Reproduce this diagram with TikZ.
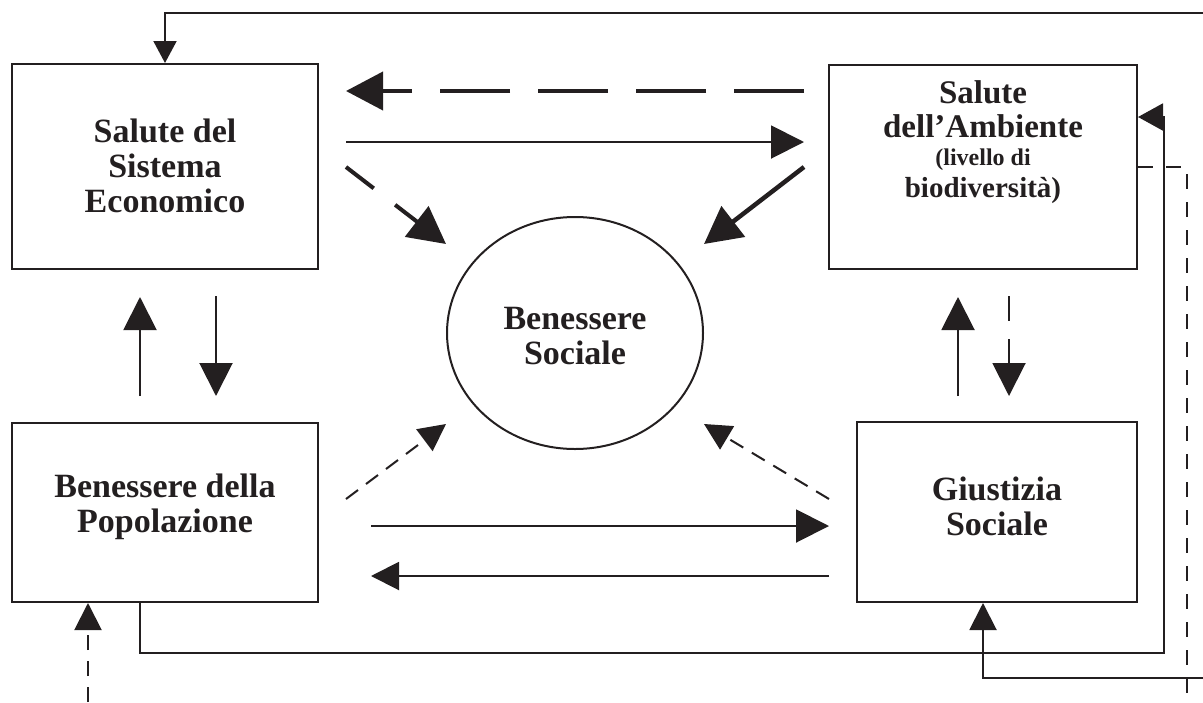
\documentclass[tikz,border=0pt]{standalone}
\usepackage{fontspec}
\setmainfont{Liberation Serif}
\usetikzlibrary{arrows.meta,calc,shapes.geometric}
\definecolor{ink}{RGB}{35,31,32}
\begin{document}
\begin{tikzpicture}[x=1pt,y=-1pt,
  box/.style={draw=ink,line width=2pt,rectangle,inner sep=0pt},
  lbl/.style={text=ink,font=\bfseries\fontsize{34}{35}\selectfont,align=center,inner sep=0pt},
  ln/.style={draw=ink,line width=2pt},
  tipM/.style={-{Triangle[length=33pt,width=33pt]}},
  tipS/.style={-{Triangle[length=27pt,width=27pt]}},
  tipB/.style={-{Triangle[length=37pt,width=38pt]}},
  bigdash/.style={draw=ink,line width=4pt,dash pattern=on 70pt off 28pt,tipB},
  thickdash/.style={draw=ink,line width=4pt,dash pattern=on 35pt off 27pt,tipB},
  thicksolid/.style={draw=ink,line width=4.5pt,tipB},
  thindash/.style={ln,dash pattern=on 15pt off 10pt,tipS},
  meddash/.style={ln,dash pattern=on 25pt off 18pt,tipM},
  fbdash/.style={ln,dash pattern=on 15pt off 13pt},
]
\useasboundingbox (0,0) rectangle (1203,702);

% boxes
\node[box,minimum width=306pt,minimum height=205pt] (A) at (165,166.5) {};
\node[box,minimum width=308pt,minimum height=204pt] (B) at (983,167) {};
\node[box,minimum width=306pt,minimum height=179pt] (C) at (165,512.5) {};
\node[box,minimum width=280pt,minimum height=180pt] (D) at (997,512) {};
\node[draw=ink,line width=2pt,ellipse,minimum width=256pt,minimum height=232pt,inner sep=0pt] (E) at (575,333) {};

% texts
\node[lbl] (At) at ($(A)+(0,-1)$) {Salute del\\Sistema\\Economico};
\node[lbl] (Ct) at ($(C)+(0,-6)$) {Benessere della\\Popolazione};
\node[lbl] (Dt) at ($(D)+(0,-6)$) {Giustizia\\Sociale};
\node[lbl] (Et) at ($(E)+(0,3)$) {Benessere\\Sociale};
\node[lbl,font=\bfseries\fontsize{33}{35}\selectfont,anchor=north] (Bt) at (983,80) {Salute\\[-1pt]dell'Ambiente\\[-7pt]{\fontsize{24}{26}\selectfont(livello di}\\[-3pt]{\fontsize{29}{31}\selectfont biodiversità)}};

% top pair
\draw[bigdash] ($(B.west)+(-24,-76)$) -- ($(A.east)+(27,-75.5)$);
\draw[ln,tipM] ($(A.east)+(27,-24.5)$) -- ($(B.west)+(-24,-25)$);
\draw[thickdash] ($(A.east)+(27,0.5)$) -- ($(E.west)+(0,-89)$);
\draw[thicksolid] ($(B.west)+(-24,0)$) -- ($(E.east)+(0,-89)$);

% bottom pair
\draw[thindash] ($(C.east)+(27,-13.5)$) -- ($(E.west)+(0,91)$);
\draw[thindash] ($(D.west)+(-27,-13)$) -- ($(E.east)+(0,91)$);
\draw[ln,tipM] ($(C.east)+(52,13.5)$) -- ($(D.west)+(-27,14)$);
\draw[ln,-{Triangle[length=28pt,width=28pt]}] ($(D.west)+(-27,64)$) -- ($(C.east)+(52,63.5)$);

% verticals
\draw[ln,tipM] ($(A.south)+(51,26)$) -- ($(C.north)+(51,-26)$);
\draw[ln,tipM] ($(C.north)+(-25,-26)$) -- ($(A.south)+(-25,27)$);
\draw[ln,tipM] ($(D.north)+(-39,-25)$) -- ($(B.south)+(-25,27)$);
\draw[meddash] ($(B.south)+(26,26)$) -- ($(D.north)+(12,-25)$);

% feedback lines
\coordinate (topin) at (1203,13);
\coordinate (botin) at (1203,678);
\coordinate (dashout) at (1187,702);
\coordinate (dashin) at (88,702);
\draw[ln,-{Triangle[length=22pt,width=23pt]}] (topin) -| (A.north);
\draw[ln,-{Triangle[length=25pt,width=27pt]}] ($(C.south)+(-25,0)$) -- ++(0,50) -| ($(B.east)+(26,-50)$) -- ($(B.east)+(0,-50)$);
\draw[ln,tipS] (botin) -| ($(D.south)+(-14,0)$);
\draw[fbdash] (B.east) -| (dashout);
\draw[ln,dash pattern=on 15pt off 11pt,tipS] (dashin) -- ($(C.south)+(-77,0)$);
\end{tikzpicture}
\end{document}
